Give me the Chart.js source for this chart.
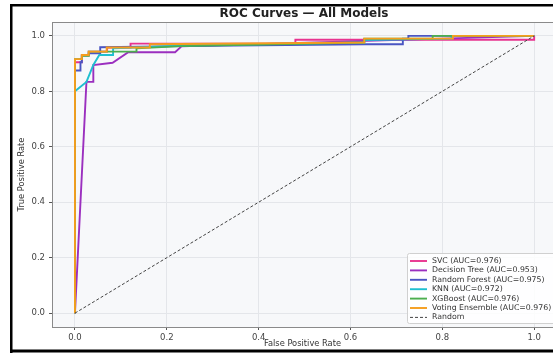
<!DOCTYPE html>
<html>
<head>
<meta charset="utf-8">
<script src="https://cdn.jsdelivr.net/npm/chart.js@4.4.1/dist/chart.umd.min.js"></script>
<style>
  html, body { margin: 0; padding: 0; background: #fff; }
  #wrap { width: 553px; height: 356px; }
</style>
</head>
<body>
<div id="wrap"><canvas id="roc" width="553" height="356"></canvas></div>
<script>
// ROC points, [fpr, tpr]
const svcPts = [[0,0],[0,0.905],[0.015,0.905],[0.015,0.93],[0.03,0.93],[0.03,0.943],[0.07,0.943],[0.07,0.958],[0.121,0.958],[0.121,0.972],[0.48,0.972],[0.48,0.986],[1,0.986],[1,1]];
const treePts = [[0,0],[0.025,0.834],[0.04,0.834],[0.04,0.895],[0.082,0.903],[0.116,0.941],[0.218,0.941],[0.232,0.962],[1,1]];
const forestPts = [[0,0],[0,0.875],[0.012,0.875],[0.012,0.905],[0.015,0.905],[0.015,0.93],[0.03,0.93],[0.03,0.937],[0.055,0.937],[0.055,0.959],[0.232,0.963],[0.632,0.97],[0.714,0.97],[0.714,0.99],[0.726,0.99],[0.726,1],[1,1]];
const knnPts = [[0,0],[0,0.8],[0.025,0.834],[0.04,0.895],[0.053,0.931],[0.083,0.931],[0.083,0.955],[0.163,0.96],[0.232,0.965],[0.63,0.976],[0.63,0.985],[0.82,0.99],[0.82,1],[1,1]];
const xgbPts = [[0,0],[0,0.916],[0.015,0.916],[0.015,0.928],[0.03,0.928],[0.03,0.943],[0.134,0.943],[0.134,0.955],[0.232,0.963],[0.63,0.976],[0.63,0.99],[0.779,0.99],[0.779,1],[1,1]];
const votePts = [[0,0],[0,0.916],[0.015,0.916],[0.015,0.931],[0.03,0.931],[0.03,0.943],[0.069,0.943],[0.069,0.958],[0.163,0.958],[0.163,0.97],[0.63,0.976],[0.63,0.99],[0.823,0.99],[0.823,1],[1,1]];
const randomPts = [[0,0],[1,1]];

const modelNames = ['SVC (AUC=0.976)', 'Decision Tree (AUC=0.953)', 'Random Forest (AUC=0.975)', 'KNN (AUC=0.972)', 'XGBoost (AUC=0.976)', 'Voting Ensemble (AUC=0.976)', 'Random'];
const modelColors = ['#e8338f', '#9b2fbf', '#4a55c2', '#1fbfd0', '#4cae4f', '#f59d1e', '#444444'];
const xTicks = [0, 0.2, 0.4, 0.6, 0.8, 1.0];
const yTicks = [0, 0.2, 0.4, 0.6, 0.8, 1.0];
const chartTitle = 'ROC Curves — All Models';

const allPts = [svcPts, treePts, forestPts, knnPts, xgbPts, votePts, randomPts];

function toXY(pts) {
    return pts.map(function(p){ return {x: p[0], y: p[1]} })
}

var datasets = allPts.map(function(pts, i){
    var isRandom = i == allPts.length - 1;
    return {
        label: modelNames[i],
        data: toXY(pts),
        borderColor: modelColors[i],
        backgroundColor: 'transparent',
        borderWidth: isRandom ? 1 : 1.9,
        borderDash: isRandom ? [3, 2] : [],
        pointRadius: 0,
        fill: false,
        tension: 0,
        order: isRandom ? 0 : 6 - i
    }
});

// frame, plot background, title, top spine and legend box
const decor = {
    id: 'decor',
    beforeDraw(chart) {
        const ctx = chart.ctx, a = chart.chartArea;
        ctx.save();
        ctx.fillStyle = '#ffffff';
        ctx.fillRect(0, 0, chart.width, chart.height);
        ctx.fillStyle = '#f7f8fa';
        ctx.fillRect(a.left, a.top, a.right - a.left, a.bottom - a.top);
        ctx.restore();
    },
    afterDraw(chart) {
        const ctx = chart.ctx, a = chart.chartArea;
        ctx.save();
        ctx.strokeStyle = '#8a8a8a';
        ctx.lineWidth = 1;
        ctx.beginPath();
        ctx.moveTo(a.left, a.top + 0.5);
        ctx.lineTo(a.right, a.top + 0.5);
        ctx.stroke();

        // title, centred over the full axes (which run past the right edge)
        ctx.font = 'bold 12px "DejaVu Sans"';
        ctx.fillStyle = '#222';
        ctx.textAlign = 'center';
        ctx.textBaseline = 'middle';
        ctx.fillText(chartTitle, 304, 14);
        ctx.textAlign = 'left';

        // legend
        var bx = 407, by = 253, bw = 150, bh = 70;
        ctx.fillStyle = 'rgba(255,255,255,0.85)';
        ctx.strokeStyle = '#d0d0d0';
        ctx.beginPath();
        ctx.roundRect(bx + 0.5, by + 0.5, bw, bh, 2);
        ctx.fill();
        ctx.stroke();
        ctx.font = '7.8px "DejaVu Sans"';
        ctx.fillStyle = '#333';
        for (var i = 0; i < modelNames.length; i++) {
            var ly = 261 + i * 9.4;
            ctx.strokeStyle = modelColors[i];
            ctx.lineWidth = i == 6 ? 1 : 1.9;
            ctx.setLineDash(i == 6 ? [3, 2] : []);
            ctx.beginPath();
            ctx.moveTo(410, ly);
            ctx.lineTo(427, ly);
            ctx.stroke();
            ctx.setLineDash([]);
            ctx.fillText(modelNames[i], 432, ly);
        }

        // black picture frame
        ctx.fillStyle = '#000';
        ctx.fillRect(10, 4, chart.width - 10, 2.5);
        ctx.fillRect(10, 4, 2.5, 349);
        ctx.fillRect(10, 349.5, chart.width - 10, 3);
        ctx.restore();
    }
};

var ctx = document.getElementById('roc').getContext('2d');
var myChart = new Chart(ctx, {
    type: 'line',
    data: { datasets: datasets },
    plugins: [decor],
    options: {
        responsive: false,
        animation: false,
        layout: { padding: { left: 0, right: 0, top: 22, bottom: 0 } },
        plugins: {
            legend: { display: false },
            tooltip: { enabled: false },
            title: { display: false }
        },
        scales: {
            x: {
                type: 'linear',
                min: -0.05,
                max: 1.041,
                afterBuildTicks: function(scale){ scale.ticks = xTicks.map(function(v){ return {value: v} }) },
                afterFit: function(scale){ scale.height = 29 },
                ticks: {
                    color: '#444',
                    font: { family: 'DejaVu Sans', size: 8.5 },
                    padding: 3,
                    maxRotation: 0,
                    callback: function(v){ return Number(v).toFixed(1) }
                },
                grid: { color: '#e4e6ea', tickColor: '#555', tickLength: 3 },
                border: { color: '#8a8a8a' },
                title: {
                    display: true,
                    text: 'False Positive Rate',
                    color: '#333',
                    font: { family: 'DejaVu Sans', size: 8.3 },
                    padding: { top: 0, bottom: 7 }
                }
            },
            y: {
                type: 'linear',
                min: -0.05,
                max: 1.05,
                afterBuildTicks: function(scale){ scale.ticks = yTicks.map(function(v){ return {value: v} }) },
                afterFit: function(scale){ scale.width = 52 },
                ticks: {
                    color: '#444',
                    font: { family: 'DejaVu Sans', size: 8.5 },
                    padding: 4,
                    callback: function(v){ return Number(v).toFixed(1) }
                },
                grid: { color: '#e4e6ea', tickColor: '#555', tickLength: 3 },
                border: { color: '#8a8a8a' },
                title: {
                    display: true,
                    text: 'True Positive Rate',
                    color: '#333',
                    font: { family: 'DejaVu Sans', size: 8.3 },
                    padding: { top: 17, bottom: 0 }
                }
            }
        }
    }
});
</script>
</body>
</html>
